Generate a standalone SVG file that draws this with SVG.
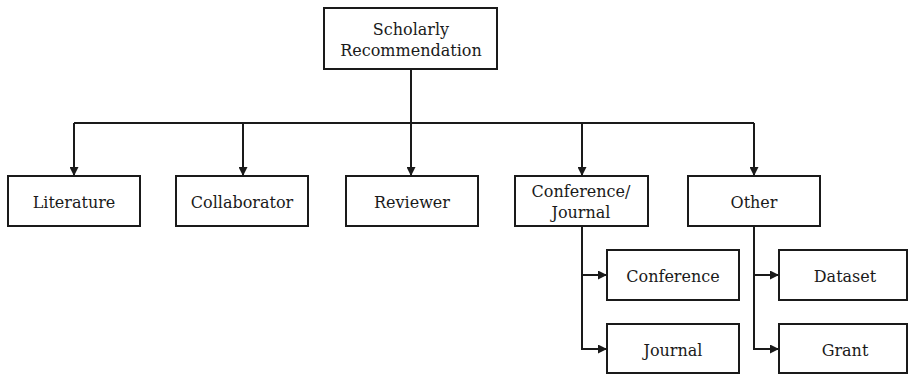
<svg xmlns="http://www.w3.org/2000/svg" width="908" height="374" viewBox="0 0 908 374">
<style>
rect{fill:#fff;stroke:#1a1a1a;stroke-width:2}
text{font-family:"DejaVu Serif","Liberation Serif",serif;font-size:16px;fill:#1a1a1a;text-anchor:middle}
.c{fill:none;stroke:#1a1a1a;stroke-width:2}
</style>
<defs>
<marker id="ah" viewBox="0 0 10 10" refX="10" refY="5" markerWidth="10" markerHeight="9" markerUnits="userSpaceOnUse" orient="auto">
<path d="M0,0L10,5L0,10z" fill="#1a1a1a"/>
</marker>
</defs>
<g id="connectors">
<path class="c" d="M411,69V123"/>
<path class="c" d="M74,123H754"/>
<path class="c" d="M74,123V176" marker-end="url(#ah)"/>
<path class="c" d="M243,123V176" marker-end="url(#ah)"/>
<path class="c" d="M411,123V176" marker-end="url(#ah)"/>
<path class="c" d="M582,123V176" marker-end="url(#ah)"/>
<path class="c" d="M754,123V176" marker-end="url(#ah)"/>
<path class="c" d="M582,226V349H607" marker-end="url(#ah)"/>
<path class="c" d="M582,275H607" marker-end="url(#ah)"/>
<path class="c" d="M754,226V349H779" marker-end="url(#ah)"/>
<path class="c" d="M754,275H779" marker-end="url(#ah)"/>
</g>
<g id="root"><rect x="324" y="8" width="173" height="61"/><text x="411" y="35">Scholarly</text><text x="411" y="56">Recommendation</text></g>
<g id="literature"><rect x="8" y="176" width="132" height="50"/><text x="74" y="208">Literature</text></g>
<g id="collaborator"><rect x="176" y="176" width="132" height="50"/><text x="242" y="208">Collaborator</text></g>
<g id="reviewer"><rect x="346" y="176" width="132" height="50"/><text x="412" y="208">Reviewer</text></g>
<g id="confjournal"><rect x="515" y="176" width="133" height="50"/><text x="581" y="197">Conference/</text><text x="581" y="218">Journal</text></g>
<g id="other"><rect x="688" y="176" width="132" height="50"/><text x="754" y="208">Other</text></g>
<g id="conference"><rect x="607" y="250" width="132" height="50"/><text x="673" y="282">Conference</text></g>
<g id="journal"><rect x="607" y="324" width="132" height="49"/><text x="673" y="356">Journal</text></g>
<g id="dataset"><rect x="779" y="250" width="128" height="50"/><text x="845" y="282">Dataset</text></g>
<g id="grant"><rect x="779" y="324" width="128" height="49"/><text x="845" y="356">Grant</text></g>
</svg>
